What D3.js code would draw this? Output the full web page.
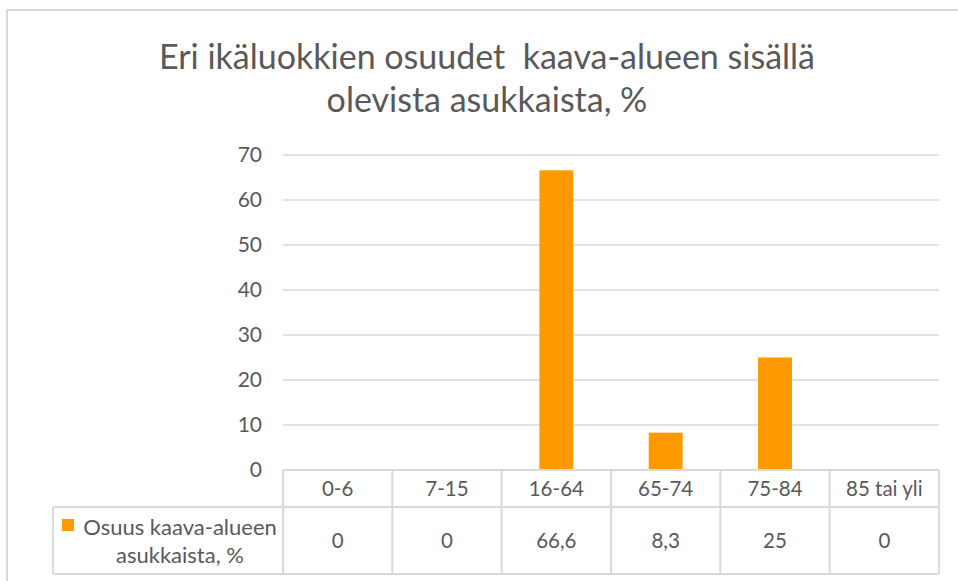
<!DOCTYPE html>
<html>
<head>
<meta charset="utf-8">
<script src="https://cdn.jsdelivr.net/npm/d3@7"></script>
<style>
  body { margin: 0; background: #ffffff; }
  svg { display: block; }
</style>
</head>
<body>
<div id="chart"></div>
<script>
// Data
const categories = ["0-6", "7-15", "16-64", "65-74", "75-84", "85 tai yli"];
const values = [0, 0, 66.6, 8.3, 25, 0];
const valueLabels = ["0", "0", "66,6", "8,3", "25", "0"];
const yTicks = [0, 10, 20, 30, 40, 50, 60, 70];
const seriesName = ["Osuus kaava-alueen", "asukkaista, %"];
const titleLines = ["Eri ikäluokkien osuudet  kaava-alueen sisällä", "olevista asukkaista, %"];

const width = 958, height = 581;
const font = "Lato, 'Open Sans', sans-serif";
const textColor = "#595959";
const lineColor = "#d9d9d9";
const barColor = "#ff9900";

const svg = d3.select("#chart")
    .append("svg")
        .attr("width", width)
        .attr("height", height);

// Outer chart border (only top and left are inside the picture)
svg.append("path")
    .attr("d", `M7,${height} L7,10 L${width},10`)
    .attr("fill", "none")
    .attr("stroke", lineColor)
    .attr("stroke-width", 2);

// Title
svg.append("text")
    .attr("x", 487)
    .attr("text-anchor", "middle")
    .style("font-family", font)
    .style("font-size", "34px")
    .style("fill", textColor)
    .style("white-space", "pre")
    .selectAll("tspan")
    .data(titleLines)
    .join("tspan")
        .attr("x", 487)
        .attr("y", (d, i) => 69 + i * 43)
        .text(d => d);

// Scales
const plot = { left: 283, right: 939, top: 155, bottom: 470 };

const yScale = d3.scaleLinear()
    .domain([0, 70])
    .range([plot.bottom, plot.top]);

const colScale = d3.scaleBand()
    .domain(categories)
    .range([plot.left, plot.right]);

const barScale = d3.scaleBand()
    .domain(categories)
    .range([plot.left, plot.right])
    .paddingInner(0.69)
    .paddingOuter(0.345);

// Gridlines
svg.append("g")
    .selectAll("line")
    .data(yTicks.filter(d => d > 0))
    .join("line")
        .attr("x1", plot.left)
        .attr("x2", plot.right)
        .attr("y1", d => yScale(d))
        .attr("y2", d => yScale(d))
        .attr("stroke", lineColor)
        .attr("stroke-width", 1.5);

// Y axis labels
const yAxis = svg.append("g")
    .attr("transform", "translate(262,0)")
    .call(d3.axisLeft(yScale).tickValues(yTicks).tickSize(0).tickPadding(0));
yAxis.select(".domain").remove();
yAxis.selectAll("text")
    .style("font-family", font)
    .style("font-size", "21px")
    .style("fill", textColor);

// Bars
svg.append("g")
    .selectAll("rect")
    .data(values)
    .join("rect")
        .attr("x", (d, i) => barScale(categories[i]))
        .attr("y", d => yScale(d))
        .attr("width", barScale.bandwidth())
        .attr("height", d => plot.bottom - yScale(d))
        .attr("fill", barColor);

// Data table
const rowTop = plot.bottom;
const rowMid = 507;
const rowBottom = 574;
const legendLeft = 53;

const table = svg.append("g")
    .attr("fill", "none")
    .attr("stroke", lineColor)
    .attr("stroke-width", 2);

table.append("line")
    .attr("x1", plot.left).attr("x2", plot.right)
    .attr("y1", rowTop).attr("y2", rowTop);
table.append("line")
    .attr("x1", legendLeft).attr("x2", plot.right)
    .attr("y1", rowMid).attr("y2", rowMid);
table.append("line")
    .attr("x1", legendLeft).attr("x2", plot.right)
    .attr("y1", rowBottom).attr("y2", rowBottom);
table.append("line")
    .attr("x1", legendLeft).attr("x2", legendLeft)
    .attr("y1", rowMid).attr("y2", rowBottom);
table.selectAll(".sep")
    .data(categories.concat(["end"]))
    .join("line")
        .attr("class", "sep")
        .attr("x1", (d, i) => plot.left + i * colScale.step())
        .attr("x2", (d, i) => plot.left + i * colScale.step())
        .attr("y1", rowTop)
        .attr("y2", rowBottom);

// Category labels
svg.append("g")
    .selectAll("text")
    .data(categories)
    .join("text")
        .attr("x", d => colScale(d) + colScale.bandwidth() / 2)
        .attr("y", 496)
        .attr("text-anchor", "middle")
        .style("font-family", font)
        .style("font-size", "20.5px")
        .style("fill", textColor)
        .text(d => d);

// Value labels
svg.append("g")
    .selectAll("text")
    .data(valueLabels)
    .join("text")
        .attr("x", (d, i) => colScale(categories[i]) + colScale.bandwidth() / 2)
        .attr("y", 548)
        .attr("text-anchor", "middle")
        .style("font-family", font)
        .style("font-size", "20.5px")
        .style("fill", textColor)
        .text(d => d);

// Legend key and series name
svg.append("rect")
    .attr("x", 62)
    .attr("y", 519)
    .attr("width", 12)
    .attr("height", 12)
    .attr("fill", barColor);

svg.append("text")
    .attr("text-anchor", "middle")
    .style("font-family", font)
    .style("font-size", "22px")
    .style("fill", textColor)
    .selectAll("tspan")
    .data(seriesName)
    .join("tspan")
        .attr("x", 180)
        .attr("y", (d, i) => 535 + i * 28)
        .text(d => d);
</script>
</body>
</html>
